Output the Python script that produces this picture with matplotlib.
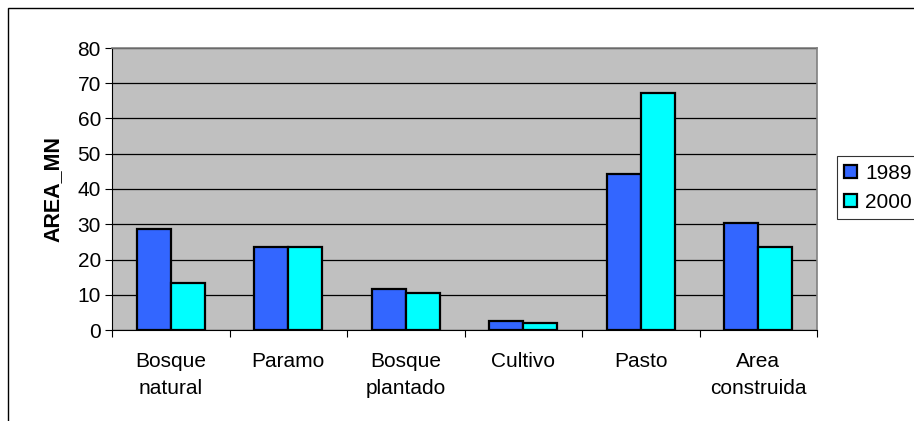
import matplotlib.pyplot as plt
import numpy as np
from matplotlib.patches import Rectangle

plt.rcParams["font.family"] = ["Liberation Sans", "DejaVu Sans"]

categories = ["Bosque\nnatural", "Paramo", "Bosque\nplantado", "Cultivo", "Pasto", "Area\nconstruida"]
years = ["1989", "2000"]
area_1989 = [28.6, 23.6, 11.5, 2.6, 44.3, 30.3]
area_2000 = [13.3, 23.6, 10.4, 2.0, 67.2, 23.6]
colors = ["#3366FF", "#00FFFF"]

fig = plt.figure(figsize=(9.14, 4.21), dpi=100)
ax = fig.add_axes([112 / 914, 1 - 330 / 421, 705 / 914, 282 / 421])

# outer chart frame
fig.patches.append(Rectangle((8 / 914, -0.1), 1.0, 1 - 8 / 421 + 0.1, transform=fig.transFigure,
                             fill=False, edgecolor="black", linewidth=1.0))

x = np.arange(len(categories))
w = 0.29
for i, (vals, c, lab) in enumerate(zip([area_1989, area_2000], colors, years)):
    ax.bar(x - w / 2 + i * w, vals, width=w, color=c, edgecolor="black", linewidth=1.6,
           label=lab, zorder=3)

ax.set_facecolor("#C0C0C0")
ax.set_xlim(-0.5, len(categories) - 0.5)
ax.set_ylim(0, 80)
ax.set_yticks(np.arange(0, 81, 10))
ax.yaxis.grid(True, color="black", linewidth=0.9, zorder=1)
ax.set_axisbelow(True)

ax.set_xticks(np.arange(-0.5, len(categories), 1.0))
ax.set_xticklabels([])
ax.set_xticks(x, minor=True)
ax.set_xticklabels(categories, minor=True, fontsize=15, linespacing=1.55)
ax.tick_params(axis="x", which="minor", length=0, pad=16)
ax.tick_params(axis="x", which="major", length=5, direction="out", color="black")
ax.tick_params(axis="y", length=5, direction="out", labelsize=15, pad=3)

for side in ["top", "right"]:
    ax.spines[side].set_color("#808080")
    ax.spines[side].set_linewidth(1.2)
ax.spines["left"].set_color("black")
ax.spines["bottom"].set_color("black")

ax.set_ylabel("AREA_MN", fontsize=15.5, fontweight="bold", labelpad=10)

leg = ax.legend(loc="center left", bbox_to_anchor=(837 / 914, 1 - 188 / 421),
                bbox_transform=fig.transFigure, fontsize=15, frameon=True, fancybox=False,
                handlelength=0.6, handleheight=0.6, handletextpad=0.4, borderpad=0.35,
                labelspacing=0.5, borderaxespad=0)
leg.get_frame().set_edgecolor("black")
leg.get_frame().set_linewidth(0.8)

fig.savefig("out.png", dpi=100)
